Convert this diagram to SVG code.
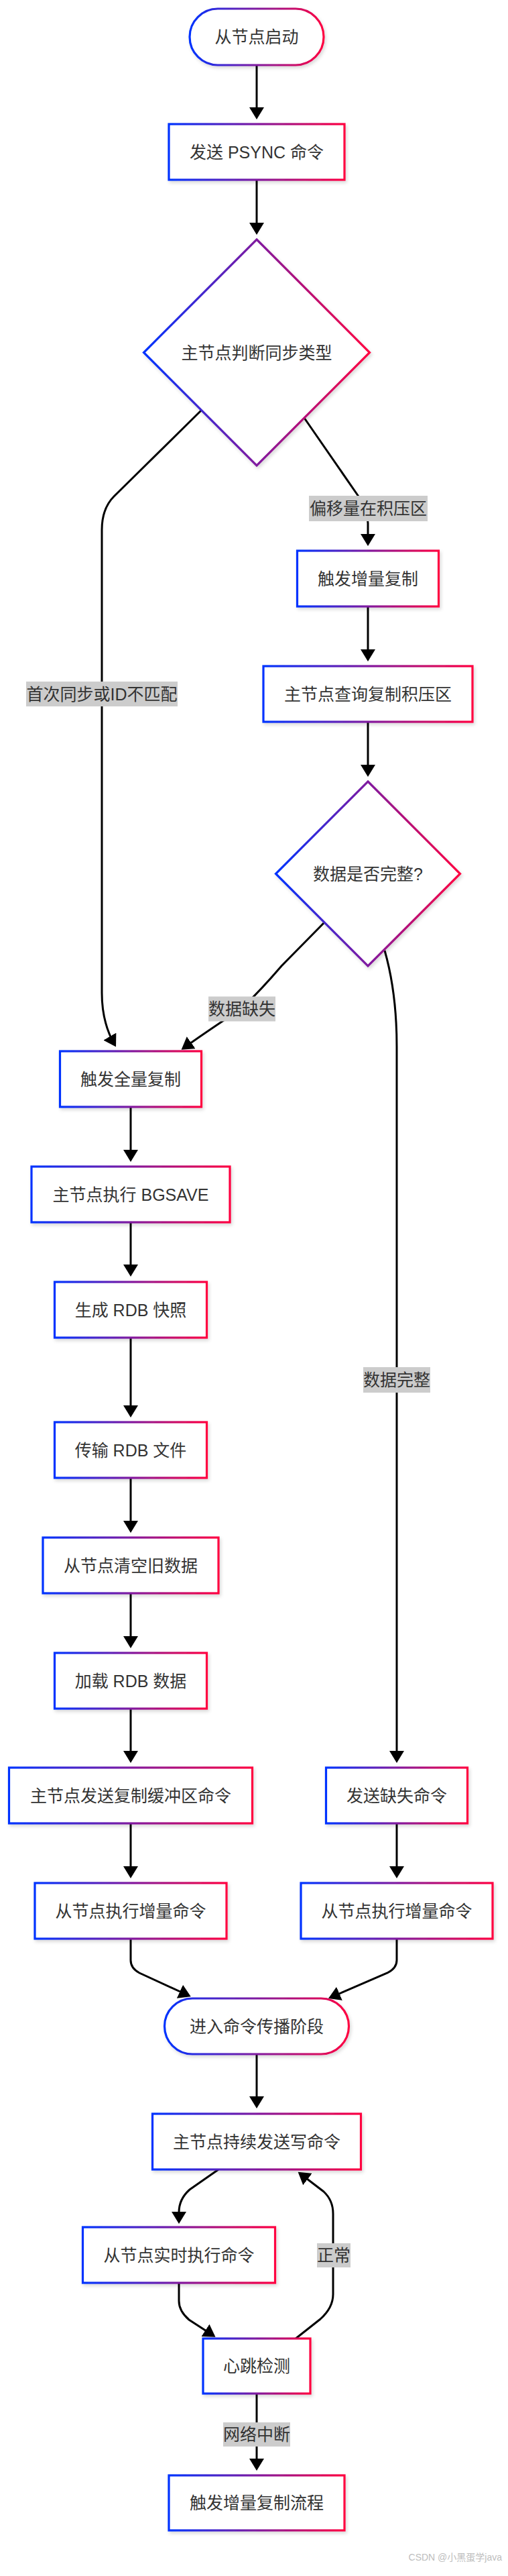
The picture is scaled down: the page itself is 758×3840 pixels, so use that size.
<svg xmlns="http://www.w3.org/2000/svg" width="758" height="3840" viewBox="0 0 758 3840">
<defs>
<linearGradient id="g" x1="0" y1="0" x2="1" y2="0">
<stop offset="0" stop-color="#0033ff"/>
<stop offset="1" stop-color="#ff0040"/>
</linearGradient>
<filter id="sh" x="-10%" y="-10%" width="130%" height="130%">
<feDropShadow dx="2" dy="3" stdDeviation="2.5" flood-color="#000" flood-opacity="0.15"/>
</filter>
<marker id="ah" viewBox="0 0 18 22" refX="15" refY="11" markerWidth="18" markerHeight="22" orient="auto" markerUnits="userSpaceOnUse">
<path d="M0,0 L18,11 L0,22 z" fill="#000"/>
</marker>
<style>
.n rect, .n polygon { fill: #fff; stroke: url(#g); stroke-width: 3.2; filter: url(#sh); }
.n text, .lb text { font-family: "Liberation Sans", "Noto Sans CJK SC", sans-serif; font-size: 25px; fill: #333; text-anchor: middle; dominant-baseline: central; }
.e path { fill: none; stroke: #000; stroke-width: 3; marker-end: url(#ah); }
.lb rect { fill: #cccccc; }
.wm { font-family: "Liberation Sans", "Noto Sans CJK SC", sans-serif; font-size: 14px; fill: #bdbdbd; text-anchor: end; }
</style>
</defs>
<rect width="758" height="3840" fill="#fff"/>
<g id="edges" class="e">
<path d="M383,97 V175"/>
<path d="M383,268 V347"/>
<path d="M300,612 L170,740 Q152,758 152,790 L152,1480 Q152,1525 171.5,1558"/>
<path d="M454,623 L535,740 Q549,762 549,780 L549,811"/>
<path d="M549,904 V983"/>
<path d="M549,1076 V1155"/>
<path d="M483,1376 L420,1440 Q390,1475 361,1503 Q305,1540 273,1563"/>
<path d="M574,1417 Q592,1480 592,1560 L592,2625"/>
<path d="M195,1650 V1729"/>
<path d="M195,1822 V1900"/>
<path d="M195,1994 V2110"/>
<path d="M195,2203 V2282"/>
<path d="M195,2375 V2454"/>
<path d="M195,2547 V2625"/>
<path d="M195,2718 V2797"/>
<path d="M592,2718 V2797"/>
<path d="M195,2890 L195,2922 Q195,2934 208,2941 L282,2975"/>
<path d="M592,2890 L592,2922 Q592,2934 578,2941 L492.7,2977.8"/>
<path d="M383,3062 V3140"/>
<path d="M326,3234 L283,3264 Q267,3278 267,3298 L267,3312"/>
<path d="M267,3403 L267,3430 Q267,3445 282,3458 L319,3482"/>
<path d="M440,3487 L478,3457 Q497,3440 497,3420 L497,3300 Q497,3280 483,3267 L447,3239.5"/>
<path d="M383,3568 V3680"/>
</g>
<g id="labels" class="lb">
<g id="l1"><rect x="39" y="1016" width="226" height="37"/><text x="152" y="1034.5">首次同步或ID不匹配</text></g>
<g id="l2"><rect x="461" y="739" width="177" height="38"/><text x="549.5" y="758">偏移量在积压区</text></g>
<g id="l3"><rect x="311" y="1485.5" width="100" height="37"/><text x="361" y="1504">数据缺失</text></g>
<g id="l4"><rect x="542" y="2038" width="100" height="38"/><text x="592" y="2057">数据完整</text></g>
<g id="l5"><rect x="473" y="3344" width="50" height="36"/><text x="498" y="3362">正常</text></g>
<g id="l6"><rect x="333" y="3611" width="100" height="36"/><text x="383" y="3629">网络中断</text></g>
</g>
<g id="n1" class="n"><rect x="283" y="13" width="200" height="84" rx="42"/><text x="383" y="55">从节点启动</text></g>
<g id="n2" class="n"><rect x="252" y="185" width="262" height="83"/><text x="383" y="226.5">发送 PSYNC 命令</text></g>
<g id="n3" class="n"><polygon points="383,357 551.5,525.5 383,694 214.5,525.5"/><text x="383" y="525.5">主节点判断同步类型</text></g>
<g id="n4" class="n"><rect x="443.5" y="821" width="211" height="83"/><text x="549" y="862.5">触发增量复制</text></g>
<g id="n5" class="n"><rect x="393" y="993" width="312" height="83"/><text x="549" y="1034.5">主节点查询复制积压区</text></g>
<g id="n6" class="n"><polygon points="549,1165 686.5,1302.5 549,1440 411.5,1302.5"/><text x="549" y="1302.5">数据是否完整?</text></g>
<g id="n7" class="n"><rect x="89.5" y="1567" width="211" height="83"/><text x="195" y="1608.5">触发全量复制</text></g>
<g id="n8" class="n"><rect x="47" y="1739" width="296" height="83"/><text x="195" y="1780.5">主节点执行 BGSAVE</text></g>
<g id="n9" class="n"><rect x="81.5" y="1911" width="227" height="83"/><text x="195" y="1952.5">生成 RDB 快照</text></g>
<g id="n10" class="n"><rect x="81.5" y="2120" width="227" height="83"/><text x="195" y="2161.5">传输 RDB 文件</text></g>
<g id="n11" class="n"><rect x="64" y="2292" width="262" height="83"/><text x="195" y="2333.5">从节点清空旧数据</text></g>
<g id="n12" class="n"><rect x="81.5" y="2464" width="227" height="83"/><text x="195" y="2505.5">加载 RDB 数据</text></g>
<g id="n13" class="n"><rect x="13.5" y="2635" width="363" height="83"/><text x="195" y="2676.5">主节点发送复制缓冲区命令</text></g>
<g id="n14" class="n"><rect x="486.5" y="2635" width="211" height="83"/><text x="592" y="2676.5">发送缺失命令</text></g>
<g id="n15" class="n"><rect x="52" y="2807" width="286" height="83"/><text x="195" y="2848.5">从节点执行增量命令</text></g>
<g id="n16" class="n"><rect x="449" y="2807" width="286" height="83"/><text x="592" y="2848.5">从节点执行增量命令</text></g>
<g id="n17" class="n"><rect x="245.5" y="2979" width="275" height="83" rx="41.5"/><text x="383" y="3020.5">进入命令传播阶段</text></g>
<g id="n18" class="n"><rect x="227.5" y="3151" width="311" height="83"/><text x="383" y="3192.5">主节点持续发送写命令</text></g>
<g id="n19" class="n"><rect x="123.5" y="3320" width="287" height="83"/><text x="267" y="3361.5">从节点实时执行命令</text></g>
<g id="n20" class="n"><rect x="303" y="3486" width="160" height="82"/><text x="383" y="3527">心跳检测</text></g>
<g id="n21" class="n"><rect x="252" y="3690" width="262" height="82"/><text x="383" y="3731">触发增量复制流程</text></g>
<text class="wm" x="749" y="3817">CSDN @小黑蛋学java</text>
</svg>
